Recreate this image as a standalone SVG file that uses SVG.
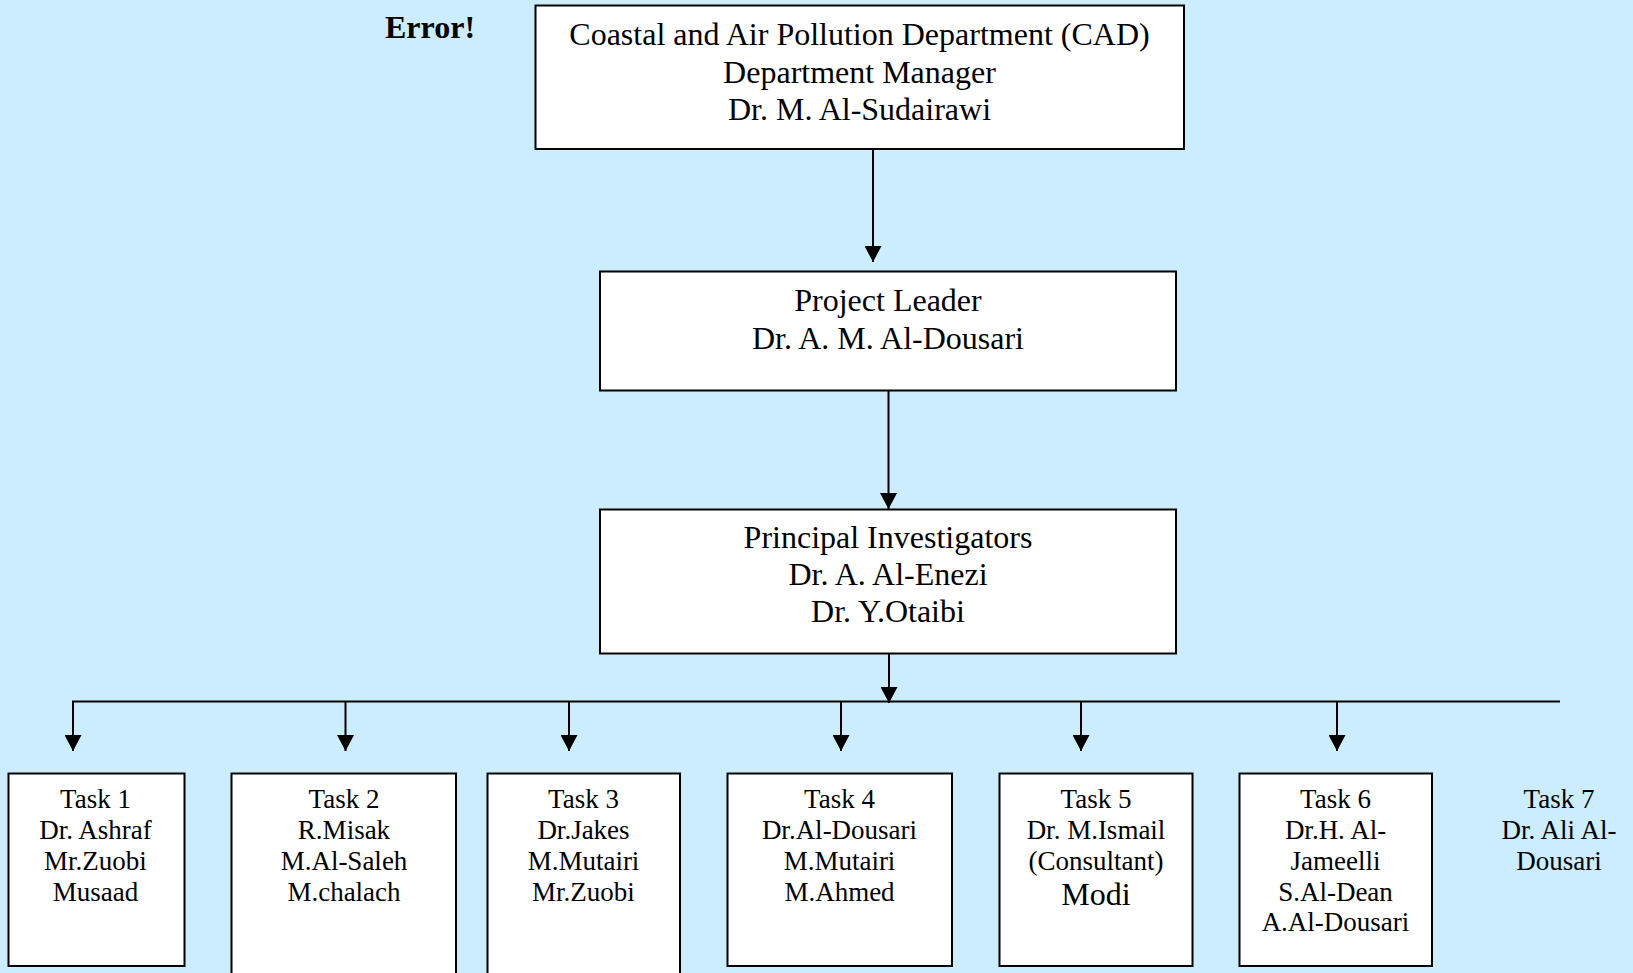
<svg xmlns="http://www.w3.org/2000/svg" width="1633" height="973" viewBox="0 0 1633 973">
<style>
.bx{fill:#ffffff;stroke:#000000;stroke-width:2}
.ln{stroke:#000000;stroke-width:2;fill:none}
.t{font-family:"Liberation Serif","Times New Roman",serif;fill:#000000;text-anchor:middle}
.big{font-size:32px}
.sm{font-size:27px}
</style>
<defs>
<marker id="ah" markerUnits="userSpaceOnUse" markerWidth="16" markerHeight="17" refX="16" refY="8.5" orient="auto" viewBox="0 0 16 17">
<path d="M0,0 L16,8.5 L0,17 z" fill="#000000"/>
</marker>
</defs>
<rect x="0" y="0" width="1633" height="973" fill="#CCECFF"/>
<text x="385" y="38" font-family="Liberation Serif,serif" font-weight="bold" font-size="32" fill="#000">Error!</text>
<g id="connectors">
<line class="ln" x1="873" y1="149" x2="873" y2="262" marker-end="url(#ah)"/>
<line class="ln" x1="888.5" y1="391" x2="888.5" y2="509" marker-end="url(#ah)"/>
<line class="ln" x1="889" y1="654" x2="889" y2="703" marker-end="url(#ah)"/>
<line class="ln" x1="72" y1="701.5" x2="1560" y2="701.5"/>
<line class="ln" x1="73" y1="701.5" x2="73" y2="751" marker-end="url(#ah)"/>
<line class="ln" x1="345.5" y1="701.5" x2="345.5" y2="751" marker-end="url(#ah)"/>
<line class="ln" x1="569" y1="701.5" x2="569" y2="751" marker-end="url(#ah)"/>
<line class="ln" x1="841" y1="701.5" x2="841" y2="751" marker-end="url(#ah)"/>
<line class="ln" x1="1081" y1="701.5" x2="1081" y2="751" marker-end="url(#ah)"/>
<line class="ln" x1="1337" y1="701.5" x2="1337" y2="751" marker-end="url(#ah)"/>
</g>
<g id="cad">
<rect class="bx" x="535.5" y="5.5" width="648.5" height="143.5"/>
<text class="t big" x="859.5" y="45">Coastal and Air Pollution Department (CAD)</text>
<text class="t big" x="859.5" y="82.5">Department Manager</text>
<text class="t big" x="859.5" y="120">Dr. M. Al-Sudairawi</text>
</g>
<g id="leader">
<rect class="bx" x="600" y="271.5" width="576" height="119"/>
<text class="t big" x="888" y="311">Project Leader</text>
<text class="t big" x="888" y="349">Dr. A. M. Al-Dousari</text>
</g>
<g id="pis">
<rect class="bx" x="600" y="509.5" width="576" height="144"/>
<text class="t big" x="888" y="548">Principal Investigators</text>
<text class="t big" x="888" y="585">Dr. A. Al-Enezi</text>
<text class="t big" x="888" y="622">Dr. Y.Otaibi</text>
</g>
<g id="task1">
<rect class="bx" x="8.5" y="773.5" width="176" height="192.5"/>
<text class="t sm" x="95.5" y="808">Task 1</text>
<text class="t sm" x="95.5" y="839">Dr. Ashraf</text>
<text class="t sm" x="95.5" y="870">Mr.Zuobi</text>
<text class="t sm" x="95.5" y="900.5">Musaad</text>
</g>
<g id="task2">
<rect class="bx" x="231.5" y="773.5" width="224.5" height="215"/>
<text class="t sm" x="344" y="808">Task 2</text>
<text class="t sm" x="344" y="839">R.Misak</text>
<text class="t sm" x="344" y="870">M.Al-Saleh</text>
<text class="t sm" x="344" y="900.5">M.chalach</text>
</g>
<g id="task3">
<rect class="bx" x="487.5" y="773.5" width="192.5" height="215"/>
<text class="t sm" x="583.5" y="808">Task 3</text>
<text class="t sm" x="583.5" y="839">Dr.Jakes</text>
<text class="t sm" x="583.5" y="870">M.Mutairi</text>
<text class="t sm" x="583.5" y="900.5">Mr.Zuobi</text>
</g>
<g id="task4">
<rect class="bx" x="727.5" y="773.5" width="224.5" height="192.5"/>
<text class="t sm" x="839.5" y="808">Task 4</text>
<text class="t sm" x="839.5" y="839">Dr.Al-Dousari</text>
<text class="t sm" x="839.5" y="870">M.Mutairi</text>
<text class="t sm" x="839.5" y="900.5">M.Ahmed</text>
</g>
<g id="task5">
<rect class="bx" x="999.5" y="773.5" width="193" height="192.5"/>
<text class="t sm" x="1096" y="808">Task 5</text>
<text class="t sm" x="1096" y="839">Dr. M.Ismail</text>
<text class="t sm" x="1096" y="870">(Consultant)</text>
<text class="t" x="1096" y="905" font-size="32">Modi</text>
</g>
<g id="task6">
<rect class="bx" x="1239.5" y="773.5" width="192.5" height="192.5"/>
<text class="t sm" x="1335.5" y="808">Task 6</text>
<text class="t sm" x="1335.5" y="839">Dr.H. Al-</text>
<text class="t sm" x="1335.5" y="870">Jameelli</text>
<text class="t sm" x="1335.5" y="900.5">S.Al-Dean</text>
<text class="t sm" x="1335.5" y="931">A.Al-Dousari</text>
</g>
<g id="task7">
<text class="t sm" x="1559" y="808">Task 7</text>
<text class="t sm" x="1559" y="839">Dr. Ali Al-</text>
<text class="t sm" x="1559" y="870">Dousari</text>
</g>
</svg>
